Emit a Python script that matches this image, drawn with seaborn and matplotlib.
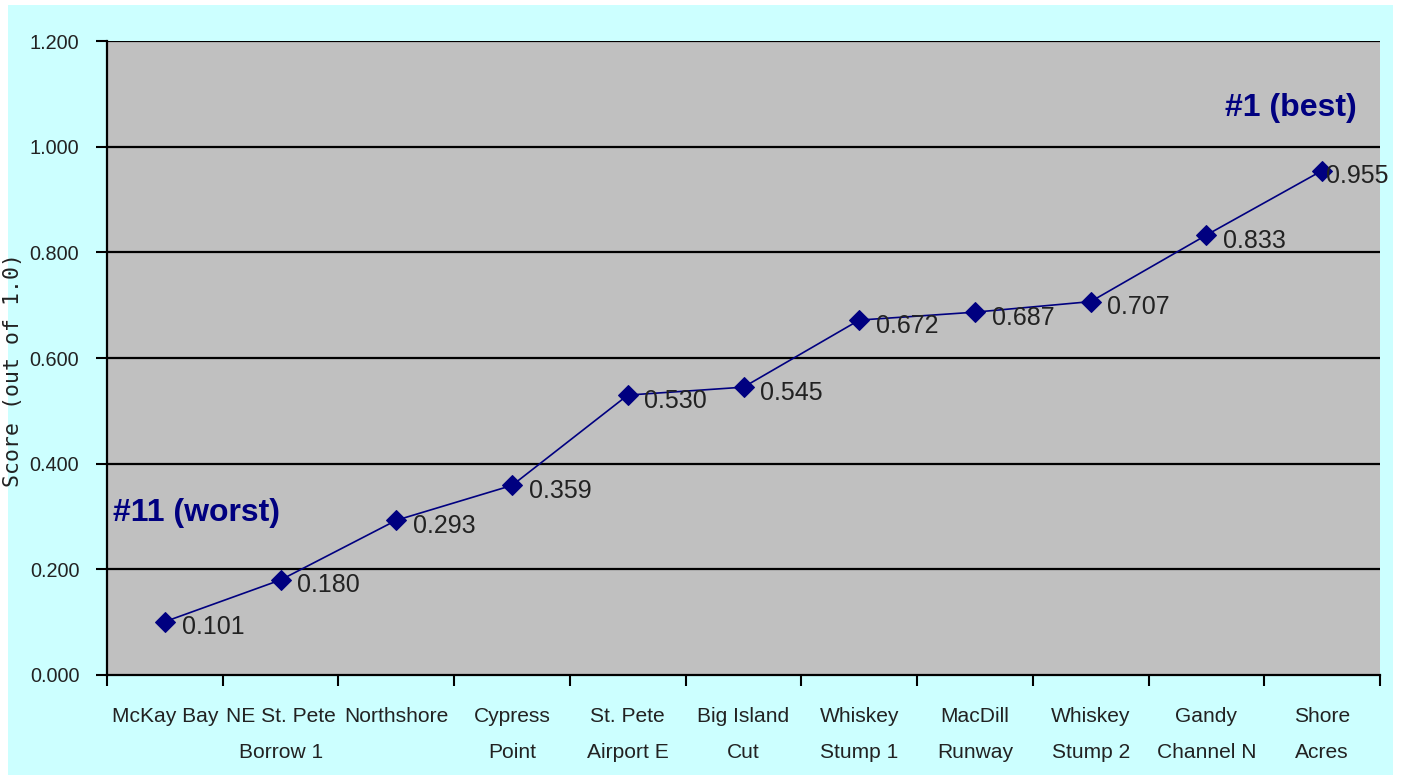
import numpy as np
import pandas as pd
import matplotlib
matplotlib.use("Agg")
import matplotlib.pyplot as plt
import seaborn as sns
from matplotlib import font_manager as fm
from matplotlib.patches import Rectangle

# site scores, worst -> best
sites = ["McKay Bay", "NE St. Pete\nBorrow 1", "Northshore", "Cypress\nPoint",
         "St. Pete\nAirport E", "Big Island\nCut", "Whiskey\nStump 1", "MacDill\nRunway",
         "Whiskey\nStump 2", "Gandy\nChannel N", "Shore\nAcres"]
scores = [0.101, 0.180, 0.293, 0.359, 0.530, 0.545, 0.672, 0.687, 0.707, 0.833, 0.955]
yticks = [0.0, 0.2, 0.4, 0.6, 0.8, 1.0, 1.2]

df = pd.DataFrame({"site": sites, "score": scores})

sns.set_style("white")
plt.rcParams["font.family"] = ["Liberation Sans", "DejaVu Sans"]

# narrow font if there is one, else plain Liberation Sans a bit smaller
fp = fm.FontProperties(family="Liberation Sans", stretch="condensed")
narrow_ok = "Narrow" in fm.findfont(fp)
k = 1.0 if narrow_ok else 0.82
stretch = "condensed" if narrow_ok else "normal"

txt_col = "#222222"
navy = "#000080"

fig = plt.figure(figsize=(14.01, 7.78), dpi=100, facecolor="white")
fig.patches.append(Rectangle((0.006, 0.004), 0.988, 0.99, transform=fig.transFigure,
                             facecolor="#CCFFFF", edgecolor="none", zorder=-10))
ax = fig.add_axes([0.0764, 0.1324, 0.9086, 0.8146])
ax.set_facecolor("#C0C0C0")

sns.lineplot(data=df, x="site", y="score", sort=False, ax=ax, color=navy, linewidth=1.2,
             marker="D", markersize=10, markeredgecolor=navy, markerfacecolor=navy, zorder=3)

ax.set_xlim(-0.5, len(sites) - 0.5)
ax.set_ylim(0, 1.2)
ax.set_yticks(yticks)
ax.set_yticklabels([f"{v:.3f}" for v in yticks], fontsize=17.5 * k, color=txt_col,
                   fontstretch=stretch)
for v in yticks[1:]:
    ax.axhline(v, color="black", linewidth=1.6, zorder=1)

# ticks on category boundaries, labels centered on categories
ax.set_xticks(np.arange(len(sites)))
ax.set_xticklabels(sites, fontsize=18.5 * k, color=txt_col, linespacing=2.15,
                   fontstretch=stretch)
ax.set_xticks(np.arange(len(sites) + 1) - 0.5, minor=True)
ax.tick_params(axis="x", which="major", length=0, pad=23)
ax.tick_params(axis="x", which="minor", length=8, width=1.5, color="black", bottom=True)
ax.tick_params(axis="y", length=8, width=1.5, color="black", left=True, pad=12)

for s in ["top", "right"]:
    ax.spines[s].set_visible(False)
for s in ["left", "bottom"]:
    ax.spines[s].set_color("black")
    ax.spines[s].set_linewidth(1.6)

ax.set_xlabel("")
ax.set_ylabel("Score (out of 1.0)", fontsize=15.5, color=txt_col,
              family=["DejaVu Sans Mono", "DejaVu Sans"])
ax.yaxis.set_label_coords(-0.066, 0.481)

for i, v in enumerate(scores):
    dx = 12 if i < len(scores) - 1 else 3
    ax.annotate(f"{v:.3f}", (i, v), xytext=(dx, -4), textcoords="offset points",
                va="center", ha="left", fontsize=22 * k, color=txt_col,
                fontstretch=stretch, zorder=4)

ax.text(0.005, 0.255, "#11 (worst)", transform=ax.transAxes, fontsize=23, fontweight="bold",
        color=navy, va="center", ha="left")
ax.text(0.982, 0.895, "#1 (best)", transform=ax.transAxes, fontsize=23, fontweight="bold",
        color=navy, va="center", ha="right")

fig.savefig("out.png", dpi=100, facecolor=fig.get_facecolor())
